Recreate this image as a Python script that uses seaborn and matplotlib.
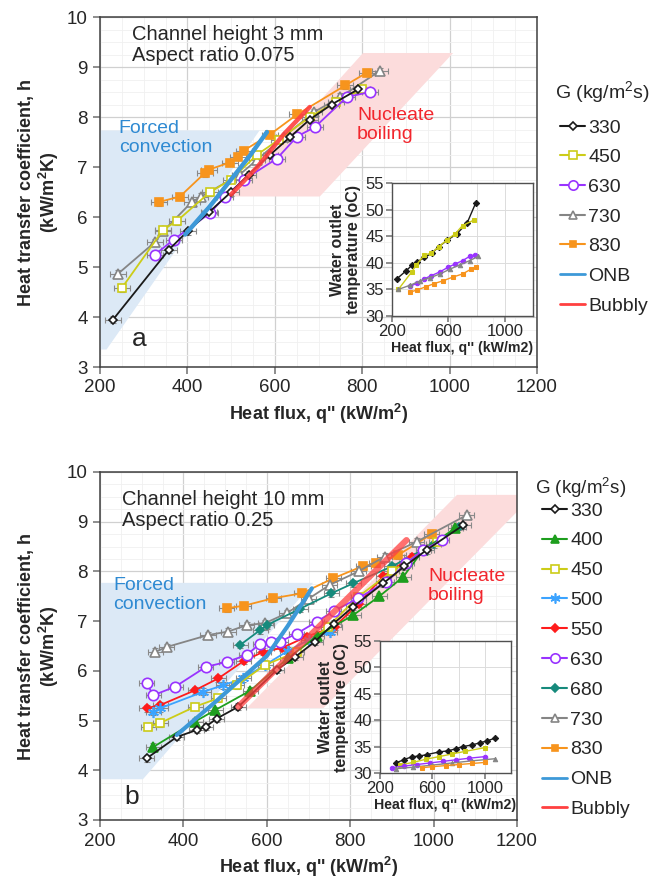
import numpy as np
import pandas as pd
import matplotlib
matplotlib.use("Agg")
import matplotlib.pyplot as plt
from matplotlib.lines import Line2D
from matplotlib.ticker import MultipleLocator
import seaborn as sns

# ---------------- data: 3 mm channel (panel a) ----------------
q_a_330 = [230, 358, 401, 450, 500, 540, 590, 635, 680, 730, 790]
h_a_330 = [3.95, 5.35, 5.72, 6.10, 6.50, 6.85, 7.25, 7.60, 7.95, 8.25, 8.55]
q_a_450 = [250, 345, 376, 452, 500, 560, 610, 680, 740, 800]
h_a_450 = [4.58, 5.75, 5.92, 6.50, 6.75, 7.25, 7.55, 8.00, 8.30, 8.55]
q_a_630 = [326, 369, 452, 486, 530, 605, 651, 692, 765, 818]
h_a_630 = [5.25, 5.55, 6.08, 6.41, 6.75, 7.17, 7.61, 7.80, 8.40, 8.50]
q_a_730 = [242, 326, 345, 410, 430, 520, 560, 620, 690, 750, 840]
h_a_730 = [4.87, 5.50, 5.72, 6.30, 6.40, 6.85, 7.15, 7.60, 8.10, 8.40, 8.92]
q_a_830 = [335, 383, 440, 450, 497, 516, 529, 589, 651, 761, 811]
h_a_830 = [6.30, 6.41, 6.88, 6.95, 7.09, 7.21, 7.33, 7.65, 8.05, 8.63, 8.89]
q_a_onb = [395, 450, 500, 545, 582]
h_a_onb = [5.65, 6.20, 6.75, 7.25, 7.70]
q_a_bub = [500, 560, 620, 680]
h_a_bub = [6.45, 7.00, 7.65, 8.20]

# outlet water temperature, 3 mm channel
qt_a_330 = [235, 300, 340, 380, 430, 483, 530, 590, 662, 733, 793]
t_a_330 = [37.0, 38.5, 39.5, 40.2, 41.0, 41.8, 43.0, 44.2, 45.5, 47.5, 51.2]
qt_a_450 = [245, 340, 370, 430, 480, 530, 590, 650, 700, 779]
t_a_450 = [35.0, 38.3, 39.5, 41.5, 41.8, 43.0, 44.3, 45.5, 47.0, 48.0]
qt_a_630 = [330, 380, 430, 480, 540, 600, 650, 700, 750, 788]
t_a_630 = [35.6, 36.2, 37.0, 37.6, 38.3, 39.2, 39.8, 40.4, 41.2, 41.5]
qt_a_730 = [245, 330, 400, 470, 540, 610, 680, 750, 812]
t_a_730 = [35.0, 35.8, 36.6, 37.2, 37.9, 38.8, 39.6, 40.4, 41.2]
qt_a_830 = [330, 380, 440, 500, 560, 630, 700, 760, 798]
t_a_830 = [34.5, 34.9, 35.5, 36.1, 36.6, 37.3, 37.9, 38.8, 39.2]

# ---------------- data: 10 mm channel (panel b) ----------------
q_b_330 = [312, 384, 432, 454, 480, 532, 624, 668, 716, 760, 807, 879, 930, 983, 1071]
h_b_330 = [4.24, 4.67, 4.81, 4.88, 5.04, 5.28, 6.02, 6.28, 6.59, 6.95, 7.29, 7.76, 8.10, 8.43, 8.93]
q_b_400 = [328, 428, 476, 560, 650, 720, 807, 870, 927, 975, 1052]
h_b_400 = [4.47, 4.98, 5.21, 5.60, 6.25, 6.70, 7.12, 7.50, 7.89, 8.43, 8.87]
q_b_450 = [316, 344, 428, 484, 528, 596, 672, 747, 819, 900, 1008]
h_b_450 = [4.88, 4.95, 5.28, 5.45, 5.71, 6.12, 6.38, 6.89, 7.49, 8.00, 8.60]
q_b_500 = [328, 345, 448, 495, 543, 596, 650, 700, 751]
h_b_500 = [5.18, 5.25, 5.58, 5.71, 5.85, 6.12, 6.40, 6.62, 6.79]
q_b_550 = [312, 344, 428, 484, 545, 591, 636, 696, 763, 820, 879, 948]
h_b_550 = [5.25, 5.31, 5.61, 5.85, 6.20, 6.38, 6.46, 6.69, 6.89, 7.35, 7.90, 8.30]
q_b_630 = [312, 328, 380, 454, 504, 552, 584, 610, 632, 672, 720, 760, 819, 887, 935, 975, 1019]
h_b_630 = [5.75, 5.51, 5.68, 6.08, 6.18, 6.32, 6.55, 6.58, 6.59, 6.75, 6.99, 7.20, 7.46, 7.79, 8.17, 8.43, 8.63]
q_b_680 = [536, 584, 600, 680, 755, 807, 900, 1000, 1060]
h_b_680 = [6.52, 6.82, 6.92, 7.25, 7.56, 7.76, 8.10, 8.55, 8.90]
q_b_730 = [332, 360, 459, 507, 552, 596, 648, 700, 751, 820, 883, 960, 1079]
h_b_730 = [6.38, 6.48, 6.72, 6.79, 6.92, 6.96, 7.16, 7.45, 7.73, 8.00, 8.30, 8.60, 9.13]
q_b_830 = [504, 545, 615, 684, 759, 831, 863, 915, 995]
h_b_830 = [7.26, 7.31, 7.46, 7.56, 7.86, 8.11, 8.16, 8.33, 8.75]
q_b_onb = [384, 480, 560, 600, 650, 708]
h_b_onb = [4.71, 5.40, 6.00, 6.30, 6.90, 7.66]
q_b_bub = [532, 600, 700, 800, 935]
h_b_bub = [5.28, 5.85, 6.68, 7.51, 8.63]

# outlet water temperature, 10 mm channel
qt_b_330 = [321, 380, 446, 500, 560, 654, 720, 780, 831, 900, 960, 1020, 1077]
t_b_330 = [31.9, 32.5, 33.1, 33.2, 33.5, 34.0, 34.2, 34.6, 35.0, 35.3, 35.7, 36.1, 36.6]
qt_b_450 = [350, 450, 550, 650, 750, 850, 1000]
t_b_450 = [31.5, 32.0, 32.6, 33.1, 33.6, 34.1, 34.8]
qt_b_630 = [292, 380, 480, 580, 680, 780, 880, 1000]
t_b_630 = [31.0, 31.3, 31.6, 31.9, 32.2, 32.5, 32.8, 33.1]
qt_b_730 = [320, 450, 600, 750, 900, 1077]
t_b_730 = [30.8, 31.1, 31.5, 31.9, 32.3, 32.7]
qt_b_830 = [520, 600, 700, 800, 900, 1000]
t_b_830 = [31.0, 31.2, 31.4, 31.6, 31.8, 32.0]

# flow-regime zones (corner points in q, h)
blue_a_q, blue_a_h = [200, 565, 215, 200], [7.73, 7.73, 3.35, 3.35]
pink_a_q, pink_a_h = [505, 703, 1008, 802], [6.41, 6.41, 9.28, 9.28]
blue_b_q, blue_b_h = [200, 711, 303, 200], [7.77, 7.77, 3.82, 3.82]
pink_b_q, pink_b_h = [552, 736, 1240, 1056], [5.25, 5.25, 9.54, 9.54]

# ---------------- styles ----------------
STY = {
    "330": dict(color="#1a1a1a", marker="D", ms=4.5, mfc="white"),
    "400": dict(color="#1e9e1e", marker="^", ms=6.5, mfc=None),
    "450": dict(color="#cccc18", marker="s", ms=6, mfc="white"),
    "500": dict(color="#3ba3ff", marker=(6, 2, 0), ms=8, mfc=None),
    "550": dict(color="#ff1c1c", marker="D", ms=4.5, mfc=None),
    "630": dict(color="#9933ff", marker="o", ms=7.5, mfc="white"),
    "680": dict(color="#168a7c", marker="D", ms=4.2, mfc=None),
    "730": dict(color="#858585", marker="^", ms=6.5, mfc="white"),
    "830": dict(color="#f7941d", marker="s", ms=5.5, mfc=None),
}
ONB_C = "#3d99d8"
BUB_C = "#ff4040"

sns.set_theme(style="white")
plt.rcParams["font.family"] = ["Liberation Sans", "DejaVu Sans"]
plt.rcParams["mathtext.fontset"] = "custom"
plt.rcParams["mathtext.rm"] = "Liberation Sans"
plt.rcParams["mathtext.bf"] = "Liberation Sans:bold"

fig = plt.figure(figsize=(6.62, 8.86), dpi=100)
fig.patch.set_facecolor("white")


def draw_series(ax, key, q, h, err=True):
    s = STY[key]
    df = pd.DataFrame({"q": q, "h": h})
    if err:
        ax.errorbar(df["q"], df["h"], xerr=18, yerr=0.07, fmt="none",
                    ecolor="#8a8a8a", elinewidth=0.8, capsize=2.2, capthick=0.8, zorder=3)
    sns.lineplot(data=df, x="q", y="h", ax=ax, sort=False, estimator=None,
                 color=s["color"], lw=1.3, marker=s["marker"], markersize=s["ms"],
                 markerfacecolor=s["mfc"] if s["mfc"] else s["color"],
                 markeredgecolor=s["color"], markeredgewidth=1.2, zorder=4)


def style_main(ax):
    ax.set_xlim(200, 1200)
    ax.set_ylim(3, 10)
    ax.xaxis.set_major_locator(MultipleLocator(200))
    ax.yaxis.set_major_locator(MultipleLocator(1))
    ax.xaxis.set_minor_locator(MultipleLocator(50))
    ax.yaxis.set_minor_locator(MultipleLocator(0.25))
    ax.grid(which="major", color="#d0d0d0", lw=0.9)
    ax.grid(which="minor", color="#f0f0f0", lw=0.6)
    ax.set_axisbelow(True)
    for sp in ax.spines.values():
        sp.set_color("#404040")
        sp.set_linewidth(1.1)
    ax.tick_params(axis="both", which="major", labelsize=13.5, length=5,
                   direction="out", color="#808080", bottom=True, left=True, pad=4)
    ax.tick_params(which="minor", length=0)
    ax.set_xlabel("Heat flux, q'' (kW/m$^\\mathbf{2}$)", fontsize=13, fontweight="bold")
    ax.set_ylabel("Heat transfer coefficient, h\n(kW/m$^\\mathbf{2}$K)", fontsize=13,
                  fontweight="bold", linespacing=1.1)


def style_inset(ax):
    ax.set_xlim(200, 1200)
    ax.set_ylim(30, 55)
    ax.set_xticks([200, 600, 1000])
    ax.xaxis.set_minor_locator(MultipleLocator(200))
    ax.yaxis.set_major_locator(MultipleLocator(5))
    ax.grid(which="both", color="#dcdcdc", lw=0.7)
    ax.set_axisbelow(True)
    for sp in ax.spines.values():
        sp.set_color("#505050")
        sp.set_linewidth(1.0)
    ax.tick_params(axis="both", which="major", labelsize=12, length=4,
                   direction="out", color="#808080", bottom=True, left=True, pad=2)
    ax.tick_params(which="minor", length=0)
    ax.set_xlabel("Heat flux, q'' (kW/m2)", fontsize=10.2, fontweight="bold", labelpad=1)
    ax.set_ylabel("Water outlet\ntemperature (oC)", fontsize=11.5, fontweight="bold",
                  labelpad=3, linespacing=1.05)


def draw_inset_series(ax, key, q, t):
    s = STY[key]
    df = pd.DataFrame({"q": q, "t": t})
    sns.lineplot(data=df, x="q", y="t", ax=ax, sort=False, estimator=None,
                 color=s["color"], lw=1.0, marker=s["marker"], markersize=3.2,
                 markerfacecolor=s["color"], markeredgecolor=s["color"])


def legend_handles(keys):
    hs = []
    for k in keys:
        s = STY[k]
        hs.append(Line2D([], [], color=s["color"], lw=1.5, marker=s["marker"],
                         markersize=s["ms"] * 0.9,
                         markerfacecolor=s["mfc"] if s["mfc"] else s["color"],
                         markeredgecolor=s["color"], markeredgewidth=1.2, label=k))
    hs.append(Line2D([], [], color=ONB_C, lw=2, label="ONB"))
    hs.append(Line2D([], [], color=BUB_C, lw=2, label="Bubbly"))
    return hs


def add_legend(keys, x_px, title_y_px, first_y_px, title_x_px, spacing, title_size=14):
    fig.text(title_x_px / 662, 1 - title_y_px / 886, "G (kg/m$^2$s)", fontsize=title_size,
             va="center", ha="left")
    fig.legend(handles=legend_handles(keys), loc="upper left",
               bbox_to_anchor=(x_px / 662, 1 - (first_y_px - 9) / 886),
               frameon=False, fontsize=14, handlelength=1.3, handletextpad=0.15,
               labelspacing=spacing, borderpad=0, borderaxespad=0)


# ================= panel a =================
ax1 = fig.add_axes([100 / 662, 1 - 367 / 886, 437 / 662, 350 / 886])
ax1.fill(blue_a_q, blue_a_h, color="#dce9f6", lw=0, zorder=1)
ax1.fill(pink_a_q, pink_a_h, color="#fcdcdc", lw=0, zorder=1)
series_a = {"330": (q_a_330, h_a_330), "450": (q_a_450, h_a_450),
            "630": (q_a_630, h_a_630), "730": (q_a_730, h_a_730),
            "830": (q_a_830, h_a_830)}
for k in ["730", "830", "450", "630", "330"]:
    draw_series(ax1, k, *series_a[k])
sns.lineplot(x=q_a_onb, y=h_a_onb, ax=ax1, color=ONB_C, lw=3.2, sort=False,
             estimator=None, zorder=5)
sns.lineplot(x=q_a_bub, y=h_a_bub, ax=ax1, color=BUB_C, lw=3.2, sort=False,
             estimator=None, zorder=5, alpha=0.9)
style_main(ax1)
ax1.text(0.073, 0.977, "Channel height 3 mm\nAspect ratio 0.075", transform=ax1.transAxes,
         fontsize=14.5, va="top", ha="left", linespacing=1.15)
ax1.text(0.043, 0.706, "Forced\nconvection", transform=ax1.transAxes, fontsize=14,
         color="#2f8ad2", va="top", ha="left", linespacing=1.15)
ax1.text(0.588, 0.743, "Nucleate\nboiling", transform=ax1.transAxes, fontsize=14,
         color="#f2262d", va="top", ha="left", linespacing=1.15)
ax1.text(0.09, 0.08, "a", transform=ax1.transAxes, fontsize=19, va="center", ha="center")

in1 = fig.add_axes([392 / 662, 1 - 316 / 886, 141 / 662, 133 / 886])
in1.set_facecolor("white")
for k, (q, t) in {"330": (qt_a_330, t_a_330), "450": (qt_a_450, t_a_450),
                  "630": (qt_a_630, t_a_630), "730": (qt_a_730, t_a_730),
                  "830": (qt_a_830, t_a_830)}.items():
    draw_inset_series(in1, k, q, t)
style_inset(in1)

add_legend(["330", "450", "630", "730", "830"], x_px=560, title_y_px=93,
           first_y_px=128, title_x_px=555, spacing=0.62)

# ================= panel b =================
ax2 = fig.add_axes([100 / 662, 1 - 820 / 886, 417 / 662, 348 / 886])
ax2.fill(blue_b_q, blue_b_h, color="#dce9f6", lw=0, zorder=1)
ax2.fill(pink_b_q, pink_b_h, color="#fcdcdc", lw=0, zorder=1)
series_b = {"330": (q_b_330, h_b_330), "400": (q_b_400, h_b_400),
            "450": (q_b_450, h_b_450), "500": (q_b_500, h_b_500),
            "550": (q_b_550, h_b_550), "630": (q_b_630, h_b_630),
            "680": (q_b_680, h_b_680), "730": (q_b_730, h_b_730),
            "830": (q_b_830, h_b_830)}
for k in ["830", "730", "680", "550", "500", "450", "400", "630", "330"]:
    draw_series(ax2, k, *series_b[k])
sns.lineplot(x=q_b_onb, y=h_b_onb, ax=ax2, color=ONB_C, lw=3.0, sort=False,
             estimator=None, zorder=5)
sns.lineplot(x=q_b_bub, y=h_b_bub, ax=ax2, color=BUB_C, lw=4.5, sort=False,
             estimator=None, zorder=5, alpha=0.75)
style_main(ax2)
ax2.text(0.053, 0.948, "Channel height 10 mm\nAspect ratio 0.25", transform=ax2.transAxes,
         fontsize=14.5, va="top", ha="left", linespacing=1.15)
ax2.text(0.031, 0.698, "Forced\nconvection", transform=ax2.transAxes, fontsize=14,
         color="#2f8ad2", va="top", ha="left", linespacing=1.15)
ax2.text(0.787, 0.724, "Nucleate\nboiling", transform=ax2.transAxes, fontsize=14,
         color="#f2262d", va="top", ha="left", linespacing=1.15)
ax2.text(0.075, 0.066, "b", transform=ax2.transAxes, fontsize=19, va="center", ha="center")

in2 = fig.add_axes([380 / 662, 1 - 773 / 886, 131 / 662, 132 / 886])
in2.set_facecolor("white")
for k, (q, t) in {"330": (qt_b_330, t_b_330), "450": (qt_b_450, t_b_450),
                  "630": (qt_b_630, t_b_630), "730": (qt_b_730, t_b_730),
                  "830": (qt_b_830, t_b_830)}.items():
    draw_inset_series(in2, k, q, t)
style_inset(in2)

add_legend(["330", "400", "450", "500", "550", "630", "680", "730", "830"], x_px=542,
           title_y_px=488, first_y_px=511, title_x_px=535, spacing=0.63, title_size=13.5)

fig.savefig("out.png", dpi=100, facecolor="white")
